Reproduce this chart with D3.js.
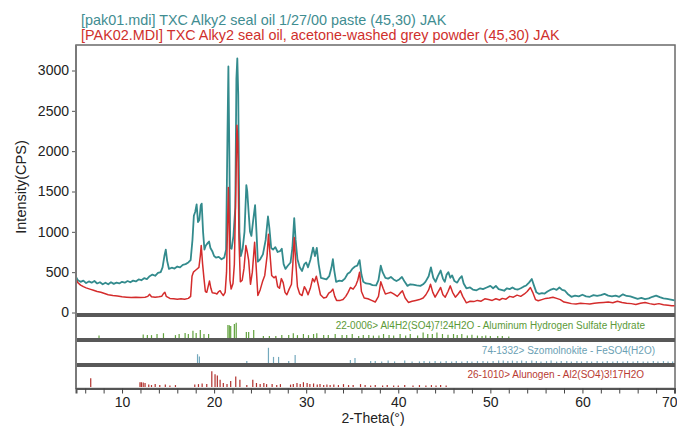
<!DOCTYPE html>
<html>
<head>
<meta charset="utf-8">
<script src="https://cdn.jsdelivr.net/npm/d3@7"></script>
<style>
  body { margin: 0; background: #fff; }
  svg { display: block; font-family: "Liberation Sans", Arial, sans-serif; }
</style>
</head>
<body>
<div id="chartContainer"></div>
<script>
/* XRD scan: two measured patterns + three reference stick patterns */

const titles = [
  "[pak01.mdi] TXC Alky2 seal oil 1/27/00 paste (45,30) JAK",
  "[PAK02.MDI] TXC Alky2 seal oil, acetone-washed grey powder (45,30) JAK"
];

// [2-theta, counts per second]
const pak01 = [
  [5.0,440],[5.2,400],[5.5,380],[5.8,395],[6.1,365],[6.4,385],[6.7,370],[7.0,390],[7.3,360],[7.6,375],
  [7.9,350],[8.2,370],[8.5,350],[8.8,375],[9.1,355],[9.4,370],[9.7,360],[10.0,380],[10.3,370],[10.6,390],
  [10.9,375],[11.2,395],[11.5,385],[11.8,410],[12.1,400],[12.4,425],[12.7,415],[13.0,450],[13.3,470],[13.6,455],
  [13.9,490],[14.2,500],[14.4,560],[14.6,700],[14.75,780],[14.9,640],[15.1,540],[15.4,555],[15.7,545],[16.0,570],
  [16.3,560],[16.6,590],[16.9,600],[17.2,620],[17.45,650],[17.65,900],[17.8,1200],[17.95,1250],[18.1,1340],[18.25,1120],
  [18.4,1150],[18.55,1330],[18.65,1350],[18.8,1000],[18.95,780],[19.1,830],[19.3,860],[19.45,880],[19.6,800],[19.8,760],
  [20.0,700],[20.2,680],[20.5,690],[20.8,660],[21.1,680],[21.3,780],[21.45,2200],[21.55,3050],[21.65,2000],[21.75,800],
  [21.9,790],[22.1,950],[22.3,1300],[22.42,2900],[22.52,3150],[22.62,2700],[22.75,1000],[22.9,700],[23.1,790],[23.3,1000],
  [23.5,1580],[23.6,1500],[23.75,1240],[23.9,1000],[24.05,950],[24.25,1150],[24.45,1330],[24.6,1000],[24.75,630],[25.0,660],
  [25.3,720],[25.6,900],[25.85,1190],[26.0,1050],[26.2,800],[26.4,780],[26.65,810],[26.9,750],[27.15,760],[27.35,790],
  [27.55,600],[27.75,540],[28.0,580],[28.3,620],[28.5,800],[28.7,1170],[28.85,900],[29.05,660],[29.3,560],[29.55,515],
  [29.8,600],[30.0,620],[30.2,560],[30.45,650],[30.75,805],[30.95,700],[31.15,800],[31.35,600],[31.6,430],[31.9,420],
  [32.2,410],[32.5,450],[32.75,560],[32.9,660],[33.05,520],[33.25,380],[33.6,395],[33.9,390],[34.2,420],[34.5,480],
  [34.75,500],[35.0,540],[35.3,570],[35.55,580],[35.8,650],[36.0,470],[36.2,380],[36.5,360],[36.9,355],[37.2,340],
  [37.6,335],[37.85,400],[38.1,580],[38.3,500],[38.6,430],[38.9,420],[39.2,440],[39.5,410],[39.8,390],[40.1,410],
  [40.4,440],[40.7,380],[41.0,330],[41.3,350],[41.6,345],[42.0,335],[42.4,330],[42.7,350],[42.95,380],[43.3,450],
  [43.55,560],[43.8,430],[44.05,380],[44.3,450],[44.6,520],[44.85,420],[45.05,380],[45.25,470],[45.45,500],[45.65,430],
  [45.85,460],[46.1,390],[46.4,370],[46.65,420],[46.9,450],[47.1,360],[47.4,300],[47.8,310],[48.1,285],[48.5,275],
  [48.9,300],[49.2,290],[49.6,310],[50.0,330],[50.3,300],[50.6,330],[50.9,290],[51.2,280],[51.5,270],[51.8,300],
  [52.1,290],[52.4,310],[52.7,290],[53.0,285],[53.3,300],[53.6,320],[53.9,335],[54.2,370],[54.5,415],[54.75,330],
  [55.0,250],[55.3,230],[55.6,240],[55.9,235],[56.2,260],[56.5,280],[56.9,295],[57.2,280],[57.5,310],[57.8,280],
  [58.1,270],[58.4,230],[58.8,195],[59.2,210],[59.6,200],[60.0,220],[60.4,200],[60.8,195],[61.2,215],[61.6,205],
  [62.0,215],[62.4,230],[62.8,210],[63.2,200],[63.6,210],[64.0,195],[64.4,225],[64.8,205],[65.2,200],[65.6,185],
  [66.0,170],[66.4,180],[66.8,165],[67.2,175],[67.6,195],[68.0,210],[68.4,190],[68.8,175],[69.2,170],[69.6,160],
  [70.0,150]
];

const pak02 = [
  [5.0,410],[5.2,370],[5.5,340],[5.8,320],[6.1,305],[6.5,290],[6.9,275],[7.3,260],[7.7,250],[8.1,235],
  [8.5,220],[9.0,210],[9.5,205],[10.0,195],[10.5,190],[11.0,185],[11.5,190],[12.0,185],[12.5,190],[12.8,200],
  [13.0,225],[13.2,195],[13.6,190],[14.0,195],[14.3,200],[14.5,235],[14.65,250],[14.8,200],[15.2,175],[15.6,170],
  [16.0,165],[16.4,170],[16.8,165],[17.2,175],[17.45,200],[17.6,450],[17.75,500],[17.95,520],[18.15,540],[18.35,560],
  [18.5,700],[18.6,830],[18.75,600],[18.9,420],[19.05,260],[19.2,250],[19.35,320],[19.5,390],[19.65,300],[19.8,245],
  [20.1,240],[20.3,230],[20.5,260],[20.65,270],[20.8,240],[21.0,210],[21.2,250],[21.35,500],[21.5,1300],[21.55,1550],
  [21.62,1200],[21.72,400],[21.85,290],[22.05,360],[22.2,600],[22.35,1500],[22.48,2320],[22.58,2100],[22.7,900],[22.85,380],
  [23.05,400],[23.25,550],[23.45,830],[23.6,750],[23.75,650],[23.95,350],[24.15,500],[24.4,870],[24.55,600],[24.75,210],
  [25.0,280],[25.25,380],[25.5,460],[25.75,700],[25.9,970],[26.05,750],[26.25,460],[26.5,430],[26.7,450],[26.9,320],
  [27.1,300],[27.3,420],[27.5,370],[27.7,250],[27.9,220],[28.15,290],[28.4,350],[28.55,600],[28.7,930],[28.85,650],
  [29.05,320],[29.3,230],[29.55,210],[29.8,320],[30.0,280],[30.2,220],[30.45,300],[30.7,420],[30.9,380],[31.1,450],
  [31.3,350],[31.55,220],[31.9,180],[32.2,190],[32.45,240],[32.7,260],[32.9,290],[33.1,200],[33.3,150],[33.7,150],
  [34.0,160],[34.3,200],[34.55,250],[34.8,310],[35.1,290],[35.4,340],[35.6,400],[35.8,500],[36.0,260],[36.3,180],
  [36.7,170],[37.1,150],[37.5,130],[37.85,200],[38.1,380],[38.35,300],[38.6,230],[38.9,240],[39.2,250],[39.5,230],
  [39.9,200],[40.2,240],[40.45,270],[40.75,180],[41.1,125],[41.5,140],[41.9,150],[42.3,160],[42.7,180],[43.0,220],
  [43.3,280],[43.5,350],[43.75,250],[44.0,190],[44.3,250],[44.6,310],[44.85,220],[45.1,190],[45.4,260],[45.65,330],
  [45.9,250],[46.2,190],[46.5,230],[46.75,270],[47.0,200],[47.4,120],[47.8,140],[48.2,135],[48.6,150],[49.0,140],
  [49.4,170],[49.8,160],[50.2,150],[50.6,170],[51.0,155],[51.3,175],[51.7,165],[52.1,200],[52.5,190],[52.9,215],
  [53.3,200],[53.7,230],[54.0,260],[54.35,310],[54.6,250],[54.9,160],[55.2,145],[55.6,160],[56.0,175],[56.4,180],
  [56.8,190],[57.2,175],[57.6,160],[58.0,130],[58.4,120],[58.8,110],[59.3,105],[59.8,115],[60.3,110],[60.8,105],
  [61.3,115],[61.8,120],[62.3,125],[62.8,130],[63.3,120],[63.8,140],[64.3,125],[64.8,115],[65.3,110],[65.8,100],
  [66.3,115],[66.8,125],[67.3,110],[67.8,100],[68.3,110],[68.8,95],[69.3,90],[69.7,85],[70.0,85]
];

// reference cards: [2-theta, relative intensity %]
const card220006 = [
  [7.5,15],[12.3,22],[12.75,18],[13.2,18],[13.8,25],[14.5,30],[15.8,18],[16.2,25],[16.85,32],[17.2,25],
  [17.7,45],[18.05,32],[18.5,50],[18.9,25],[19.4,25],[21.5,82],[21.65,80],[21.8,75],[22.2,88],[22.4,95],
  [23.5,38],[23.75,38],[24.3,50],[25.35,12],[26.0,12],[26.7,12],[27.35,18],[28.1,18],[28.6,30],[29.05,18],
  [29.7,25],[30.25,18],[30.8,25],[31.15,30],[31.9,18],[32.4,18],[33.15,25],[33.9,18],[34.4,18],[35.0,25],
  [35.7,12],[36.2,18],[36.8,18],[37.3,15],[37.9,15],[38.4,25],[39.0,18],[39.5,15],[40.2,25],[40.8,15],
  [41.3,25],[42.1,15],[42.7,35],[43.2,25],[43.7,25],[44.2,35],[44.8,25],[45.4,20],[46.0,25],[46.4,18],
  [46.9,25],[47.5,15],[48.0,20],[48.6,15],[49.1,12],[49.5,15],[50.0,12],[50.8,12],[51.3,12],[52.0,10]
];

const card741332 = [
  [18.2,55],[18.4,40],[23.55,12],[25.9,95],[26.45,38],[27.0,38],[28.1,12],[28.8,50],[34.8,18],[35.3,32],
  [37.0,12],[37.5,12],[38.2,10],[38.9,15],[39.6,10],[40.7,15],[41.5,10],[42.3,10],[42.8,12],[43.4,10],
  [44.0,12],[44.6,10],[45.2,12],[45.8,10],[46.3,12],[46.9,10],[47.5,12],[48.0,10],[48.6,12],[49.2,12],
  [49.7,10],[50.3,12],[50.9,15],[51.4,15],[51.9,12],[52.4,15],[52.9,12],[53.4,15],[53.9,12],[54.5,15],
  [55.0,12],[55.5,10],[56.1,12],[56.6,15],[57.2,10],[57.7,12],[58.3,12],[58.8,10],[59.4,12],[59.9,10],
  [60.5,12],[61.0,10],[61.6,12],[62.2,10],[62.7,12],[63.3,10],[63.8,12],[64.4,10],[64.9,12],[65.5,10],
  [66.0,12],[66.6,10],[67.1,10],[67.7,12],[68.2,10],[68.8,12],[69.3,10],[69.8,10]
];

const card261010 = [
  [6.6,55],[11.95,30],[12.1,30],[12.3,28],[12.5,25],[12.9,15],[13.2,12],[13.6,18],[14.1,12],[14.7,15],
  [15.2,10],[15.8,12],[17.9,15],[18.3,18],[18.7,22],[19.2,18],[19.75,98],[20.1,80],[20.35,72],[20.65,45],
  [21.0,25],[21.4,18],[21.8,38],[22.35,65],[22.8,45],[23.55,12],[24.2,45],[24.6,25],[25.0,18],[25.4,25],
  [25.7,18],[26.3,18],[26.8,12],[27.2,18],[28.3,15],[28.6,18],[29.0,25],[29.35,18],[29.7,30],[30.1,25],
  [30.4,18],[30.8,22],[31.2,15],[31.5,18],[31.9,12],[32.25,15],[32.6,12],[33.0,15],[33.5,12],[34.05,18],
  [34.6,12],[35.1,12],[35.9,18],[36.4,12],[37.0,10],[37.5,12],[38.3,10],[38.8,12],[39.5,10],[40.0,10],
  [40.7,12],[41.6,10],[42.3,12],[43.0,10],[43.6,12],[44.1,10],[44.6,12],[45.2,10]
];

const cards = [
  {data: card220006, label: "22-0006> Al4H2(SO4)7!24H2O - Aluminum Hydrogen Sulfate Hydrate", color: "#62a23e", textColor: "#5c9a38", labelX: 645},
  {data: card741332, label: "74-1332> Szomolnokite - FeSO4(H2O)", color: "#74a9bd", textColor: "#6b9fb4", labelX: 655},
  {data: card261010, label: "26-1010> Alunogen - Al2(SO4)3!17H2O", color: "#b0302c", textColor: "#b83a32", labelX: 644}
];

const yTicks = [0, 500, 1000, 1500, 2000, 2500, 3000];
const xMinorTicks = d3.range(6, 71, 2);
const xLabelTicks = [10, 20, 30, 40, 50, 60, 70];

const teal = "#338b8d";
const red = "#d42c2c";

function draw() {
  const container = document.getElementById("chartContainer");
  const width = 677;
  const height = 427;

  const left = 76;
  const right = 675;
  const top = 45;
  const mainBottom = 315;
  const panelBase = [338, 363, 387];
  const separators = [315, 340, 365];
  const axisY = 388.5;

  // Declare the x (2-theta) scale.
  const x = d3.scaleLinear([5, 70], [left, 674.5]);

  // Declare the y (intensity) scale.
  const y = d3.scaleLinear([0, 3000], [312.5, 70.5]);

  const svg = d3.create("svg")
    .attr("width", width)
    .attr("height", height)
    .attr("viewBox", [0, 0, width, height]);

  // Titles
  svg.append("g")
    .selectAll("text")
    .data(titles)
    .join("text")
    .attr("x", 81)
    .attr("y", (d, i) => 25 + i * 15)
    .attr("fill", (d, i) => i == 0 ? "#3f8d91" : "#cf2f2c")
    .attr("font-size", "14.4px")
    .text(d => d);

  svg.append("clipPath")
    .attr("id", "plotClip")
    .append("rect")
    .attr("x", left)
    .attr("y", top)
    .attr("width", right - left)
    .attr("height", mainBottom - top);

  // Plot frame
  svg.append("rect")
    .attr("x", left)
    .attr("y", top)
    .attr("width", right - left)
    .attr("height", axisY - top)
    .attr("fill", "none")
    .attr("stroke", "#6a6a6a")
    .attr("stroke-width", 1.5);

  // y-axis
  svg.append("g")
    .attr("transform", `translate(${left},0)`)
    .call(d3.axisLeft(y).tickValues(yTicks).tickFormat(d3.format("d")).tickSize(4).tickPadding(3))
    .call(g => g.select(".domain").remove())
    .call(g => g.selectAll(".tick line").attr("stroke", "#555"))
    .call(g => g.selectAll(".tick text")
      .attr("font-size", "14px")
      .attr("font-family", "Liberation Sans, Arial, sans-serif")
      .attr("fill", "#222"));

  svg.append("text")
    .attr("transform", "translate(26,187) rotate(-90)")
    .attr("text-anchor", "middle")
    .attr("font-size", "14.5px")
    .attr("fill", "#222")
    .text("Intensity(CPS)");

  // Measured patterns
  const line = d3.line()
    .x(d => x(d[0]))
    .y(d => y(d[1]));

  const curves = svg.append("g").attr("clip-path", "url(#plotClip)");

  curves.append("path")
    .attr("fill", "none")
    .attr("stroke", teal)
    .attr("stroke-width", 1.8)
    .attr("stroke-linejoin", "round")
    .attr("d", line(pak01));

  curves.append("path")
    .attr("fill", "none")
    .attr("stroke", red)
    .attr("stroke-width", 1.5)
    .attr("stroke-linejoin", "round")
    .attr("d", line(pak02));

  // Reference stick patterns
  cards.forEach((card, i) => {
    const base = panelBase[i];
    const h = d3.scaleLinear([0, 100], [base, base - 16]);

    svg.append("g")
      .selectAll("line")
      .data(card.data)
      .join("line")
      .attr("x1", d => x(d[0]))
      .attr("x2", d => x(d[0]))
      .attr("y1", base)
      .attr("y2", d => h(d[1]))
      .attr("stroke", card.color)
      .attr("stroke-width", 1.2);

    svg.append("text")
      .attr("x", card.labelX)
      .attr("y", base - 9)
      .attr("text-anchor", "end")
      .attr("font-size", "10px")
      .attr("fill", card.textColor)
      .text(card.label);
  });

  // Thick separators between panels
  svg.append("g")
    .selectAll("line")
    .data(separators)
    .join("line")
    .attr("x1", left)
    .attr("x2", right)
    .attr("y1", d => d)
    .attr("y2", d => d)
    .attr("stroke", "#585858")
    .attr("stroke-width", 4);

  // left edge
  svg.append("line")
    .attr("x1", left).attr("x2", left)
    .attr("y1", top).attr("y2", axisY)
    .attr("stroke", "#7a7a7a")
    .attr("stroke-width", 2);

  // x-axis
  svg.append("g")
    .attr("transform", `translate(0,${axisY})`)
    .call(d3.axisBottom(x).tickValues(xMinorTicks).tickSize(5).tickFormat(""))
    .call(g => g.select(".domain").attr("stroke", "#555").attr("stroke-width", 2))
    .call(g => g.selectAll(".tick line").attr("stroke", "#444"));

  svg.append("g")
    .attr("transform", `translate(0,${axisY})`)
    .call(d3.axisBottom(x).tickValues(xLabelTicks).tickSize(0).tickPadding(9))
    .call(g => g.select(".domain").remove())
    .call(g => g.selectAll(".tick text")
      .attr("font-size", "14px")
      .attr("font-family", "Liberation Sans, Arial, sans-serif")
      .attr("fill", "#222"))
    // keep the last label inside the picture
    .call(g => g.selectAll(".tick text").filter(d => d == 70)
      .attr("text-anchor", "end")
      .attr("x", 677 - x(70)));

  svg.append("text")
    .attr("x", 373)
    .attr("y", 423)
    .attr("text-anchor", "middle")
    .attr("font-size", "14px")
    .attr("fill", "#222")
    .text("2-Theta(°)");

  container.append(svg.node());
}

draw();
</script>
</body>
</html>
